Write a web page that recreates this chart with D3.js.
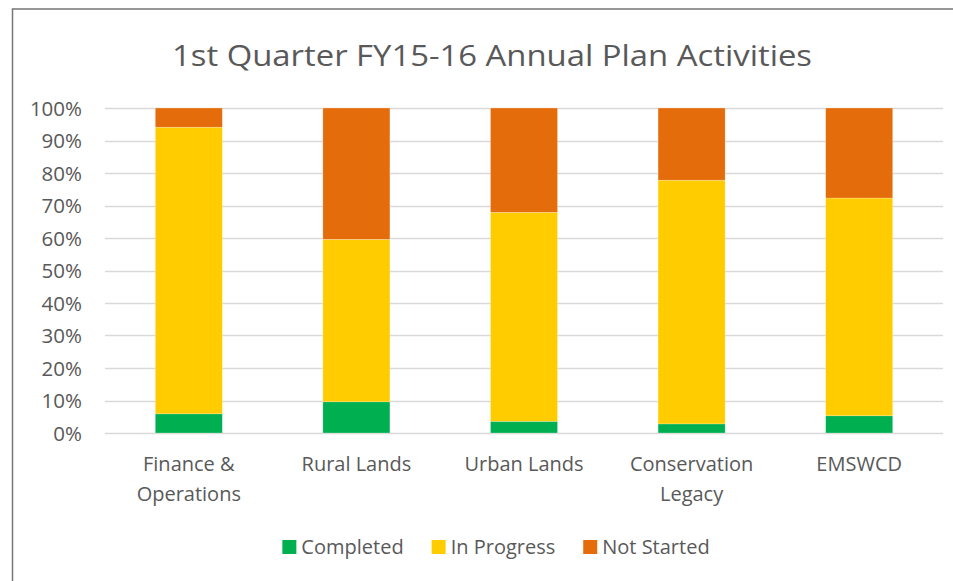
<!DOCTYPE html>
<html>
<head>
<meta charset="utf-8">
<script src="https://cdn.jsdelivr.net/npm/d3@7"></script>
<style>
  html, body { margin: 0; padding: 0; background: #fff; }
  svg { display: block; }
  text { font-family: "Open Sans", "Noto Sans", sans-serif; fill: #595959; }
</style>
</head>
<body>
<div id="chart"></div>
<script>
// data (percent of activities)
const categories = [["Finance &", "Operations"], ["Rural Lands"], ["Urban Lands"], ["Conservation", "Legacy"], ["EMSWCD"]];
const seriesNames = ["Completed", "In Progress", "Not Started"];
const completed = [5.9, 9.6, 3.6, 2.8, 5.3];
const inProgress = [88.2, 50.0, 64.3, 75.0, 67.0];
const notStarted = [5.9, 40.4, 32.1, 22.2, 27.7];
const yTicks = [0, 10, 20, 30, 40, 50, 60, 70, 80, 90, 100];
const colors = ["#00B050", "#FFCC00", "#E46C0A"];

const width = 953, height = 581;

const svg = d3.select("#chart").append("svg")
    .attr("width", width)
    .attr("height", height);

// chart frame (runs off the right and bottom edge)
svg.append("rect")
    .attr("x", 12.5).attr("y", 9)
    .attr("width", 980).attr("height", 600)
    .attr("fill", "#fff")
    .attr("stroke", "#767676")
    .attr("stroke-width", 1.5);

svg.append("text")
    .attr("x", 492).attr("y", 66)
    .attr("text-anchor", "middle")
    .attr("font-size", 30)
    .attr("textLength", 640)
    .attr("lengthAdjust", "spacingAndGlyphs")
    .text("1st Quarter FY15-16 Annual Plan Activities");

const x = d3.scaleBand()
    .domain(d3.range(categories.length))
    .range([105, 943])
    .paddingInner(0.6)
    .paddingOuter(0.3);

const y = d3.scaleLinear()
    .domain([0, 100])
    .range([433, 108]);

// gridlines
svg.append("g")
    .selectAll("line")
    .data(yTicks)
    .join("line")
    .attr("x1", 105).attr("x2", 943)
    .attr("y1", d => Math.round(y(d)) + 0.5)
    .attr("y2", d => Math.round(y(d)) + 0.5)
    .attr("stroke", "#d9d9d9")
    .attr("stroke-width", 1.5);

// y tick labels
svg.append("g")
    .selectAll("text")
    .data(yTicks)
    .join("text")
    .attr("x", 82)
    .attr("y", d => y(d) + 7.5)
    .attr("text-anchor", "end")
    .attr("font-size", 20.5)
    .text(d => d + "%");

// stacked bars
const rows = categories.map((c, i) => ({
    i: i,
    "Completed": completed[i],
    "In Progress": inProgress[i],
    "Not Started": notStarted[i]
}));
const stacked = d3.stack().keys(seriesNames)(rows);

svg.append("g")
    .selectAll("g")
    .data(stacked)
    .join("g")
    .attr("fill", (d, k) => colors[k])
    .selectAll("rect")
    .data(d => d)
    .join("rect")
    .attr("x", d => x(d.data.i))
    .attr("width", x.bandwidth())
    .attr("y", d => y(d[1]))
    .attr("height", d => y(d[0]) - y(d[1]))
    .attr("stroke", "#ffffff")
    .attr("stroke-opacity", 0.4)
    .attr("stroke-width", 0.6);

// category labels
const catLabels = svg.append("g")
    .selectAll("text")
    .data(categories)
    .join("text")
    .attr("x", (d, i) => x(i) + x.bandwidth() / 2)
    .attr("y", 471)
    .attr("text-anchor", "middle")
    .attr("font-size", 20);

catLabels.selectAll("tspan")
    .data(d => d)
    .join("tspan")
    .attr("x", function () { return d3.select(this.parentNode).attr("x"); })
    .attr("dy", (d, j) => j === 0 ? 0 : 30)
    .text(d => d);

// legend
const legend = svg.append("g");
const items = legend.selectAll("g")
    .data(seriesNames)
    .join("g");

items.append("rect")
    .attr("width", 14).attr("height", 14)
    .attr("y", 540)
    .attr("fill", (d, k) => colors[k]);

items.append("text")
    .attr("x", 19)
    .attr("y", 554)
    .attr("font-size", 20)
    .text(d => d);

let widths = [];
items.each(function () {
    widths.push(d3.select(this).select("text").node().getComputedTextLength() + 19);
});
const gap = 28;
const total = d3.sum(widths) + gap * (widths.length - 1);
let pos = 496 - total / 2;
items.attr("transform", (d, k) => {
    const t = `translate(${pos},0)`;
    pos += widths[k] + gap;
    return t;
});
</script>
</body>
</html>
